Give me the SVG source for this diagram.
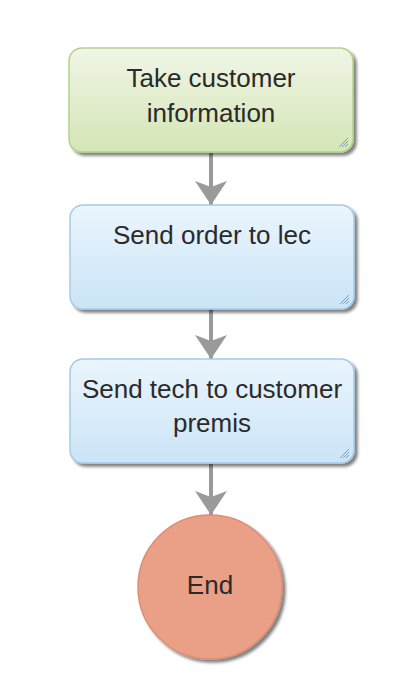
<svg xmlns="http://www.w3.org/2000/svg" width="406" height="684" viewBox="0 0 406 684">
<defs>
<linearGradient id="gGreen" x1="0" y1="0" x2="0" y2="1">
<stop offset="0" stop-color="#f0f5e6"/><stop offset="1" stop-color="#d4e6b5"/>
</linearGradient>
<linearGradient id="gBlue" x1="0" y1="0" x2="0" y2="1">
<stop offset="0" stop-color="#eaf5fd"/><stop offset="1" stop-color="#cbe4f7"/>
</linearGradient>
<filter id="sh" x="-20%" y="-20%" width="140%" height="140%">
<feGaussianBlur in="SourceAlpha" stdDeviation="1.5"/>
<feOffset dx="3" dy="3" result="b"/>
<feComponentTransfer><feFuncA type="linear" slope="0.5"/></feComponentTransfer>
<feMerge><feMergeNode/><feMergeNode in="SourceGraphic"/></feMerge>
</filter>
<marker id="arr" markerWidth="6" markerHeight="8" refX="6" refY="4" orient="auto" markerUnits="strokeWidth">
<path d="M0,0 L6,4 L0,8 L1.5,4 Z" fill="#9a9a9a"/>
</marker>
</defs>
<style>
.lbl{font-family:"Liberation Sans",Arial,sans-serif;font-size:26px;fill:#2a2a2a;text-anchor:middle}
.conn{stroke:#9a9a9a;stroke-width:4;fill:none}
.grip{stroke:#6a9fd8;stroke-width:1}
</style>
<rect width="406" height="684" fill="#ffffff"/>
<g id="connectors">
<line class="conn" x1="211" y1="153" x2="211" y2="205" marker-end="url(#arr)"/>
<line class="conn" x1="211" y1="309" x2="211" y2="359" marker-end="url(#arr)"/>
<line class="conn" x1="211" y1="464" x2="211" y2="515" marker-end="url(#arr)"/>
</g>
<g id="n1">
<rect x="69" y="48" width="284" height="104" rx="13" fill="url(#gGreen)" stroke="#b3d18a" stroke-width="1.5" filter="url(#sh)"/>
<path class="grip" d="M348,138 L339,147 M348,141 L342,147 M348,144 L345,147"/>
<text class="lbl" x="211" y="87">Take customer</text>
<text class="lbl" x="211" y="122">information</text>
</g>
<g id="n2">
<rect x="70" y="205" width="284" height="104" rx="13" fill="url(#gBlue)" stroke="#a7cbe7" stroke-width="1.5" filter="url(#sh)"/>
<path class="grip" d="M349,295 L340,304 M349,298 L343,304 M349,301 L346,304"/>
<text class="lbl" x="212" y="244">Send order to lec</text>
</g>
<g id="n3">
<rect x="70" y="359" width="284" height="104" rx="13" fill="url(#gBlue)" stroke="#a7cbe7" stroke-width="1.5" filter="url(#sh)"/>
<path class="grip" d="M349,449 L340,458 M349,452 L343,458 M349,455 L346,458"/>
<text class="lbl" x="212" y="398">Send tech to customer</text>
<text class="lbl" x="212" y="432">premis</text>
</g>
<g id="end">
<circle cx="210" cy="587" r="72" fill="#e9a086" stroke="#dc8d72" stroke-width="1.5" filter="url(#sh)"/>
<text class="lbl" x="210" y="594">End</text>
</g>
</svg>
